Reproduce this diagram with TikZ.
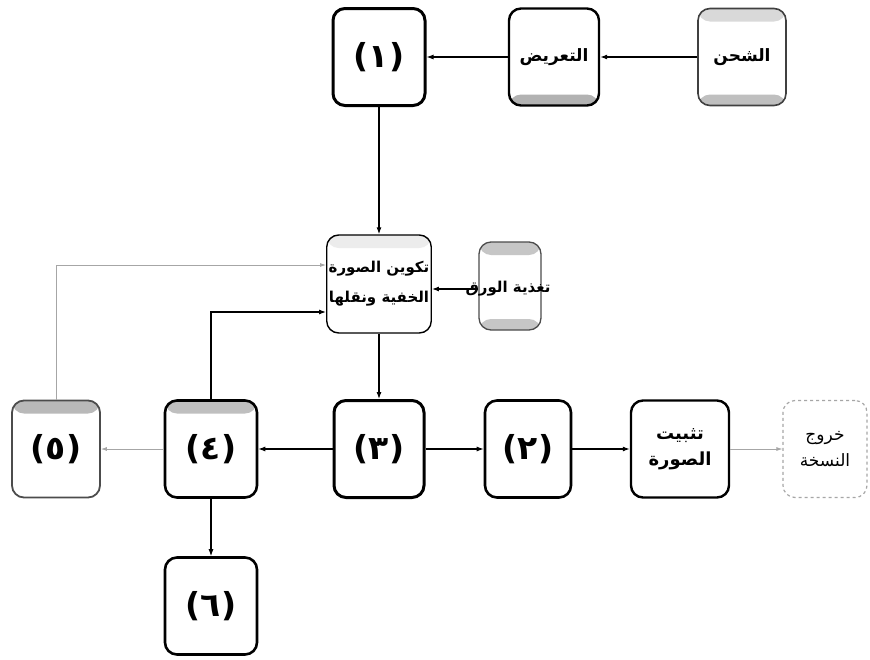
\documentclass[tikz,border=0pt]{standalone}
\usepackage{fontspec}
\usetikzlibrary{arrows.meta,calc}
\TeXXeTstate=1
\newfontfamily\arabicfont[Script=Arabic]{DejaVu Sans}
\tikzset{
  bx/.style={draw=black, fill=white, rounded corners=12pt, line width=2.6pt,
    minimum width=92pt, minimum height=97pt, inner sep=2pt, font=\arabicfont\bfseries\fontsize{33}{36}\selectfont},
  lbl/.style={font=\arabicfont\bfseries\fontsize{17}{24}\selectfont, align=center},
  topband/.style={path picture={\fill[#1] (path picture bounding box.north west) rectangle ([yshift=-13pt]path picture bounding box.north east);}},
  botband/.style={path picture={\fill[#1] (path picture bounding box.south west) rectangle ([yshift=11pt]path picture bounding box.south east);}},
  bands/.style 2 args={path picture={\fill[#1] (path picture bounding box.north west) rectangle ([yshift=-13pt]path picture bounding box.north east);
     \fill[#2] (path picture bounding box.south west) rectangle ([yshift=11pt]path picture bounding box.south east);}},
  arr/.style={-{Latex[length=7pt,width=5pt]}, line width=1.1pt, draw=black},
  farr/.style={-{Latex[length=6pt,width=4pt]}, line width=0.8pt, draw=gray!70},
}
\begin{document}
\begin{tikzpicture}[x=1pt,y=-1pt]
\useasboundingbox (0,0) rectangle (870,659);
% top row
\node[bx, line width=3pt] (b1) at (379,57) {(١)};
\node[bx, lbl, line width=2.4pt, botband=gray!60, minimum width=90pt] (taarid) at (554,57) {\beginR التعريض\endR};
\node[bx, lbl, line width=1.6pt, draw=black!75, bands={gray!30}{gray!50}, minimum width=88pt] (shahn) at (742,57) {\beginR الشحن\endR};
% middle
\node[bx, lbl, line width=1.4pt, topband=gray!15, minimum width=90pt, minimum height=98pt, font=\arabicfont\bfseries\fontsize{15}{30}\selectfont] (takwin) at (379,284) {\beginR تكوين الصورة\endR\\\beginR الخفية ونقلها\endR};
\node[bx, line width=1.3pt, draw=black!70, bands={gray!45}{gray!45}, minimum width=62pt, minimum height=88pt] (taghdhiya) at (510,286) {};
\node[lbl, font=\arabicfont\bfseries\fontsize{15}{20}\selectfont] (taghtxt) at (508,289) {\beginR تغذية الورق\endR};
% main row
\node[bx, line width=1.8pt, draw=black!70, topband=gray!55, minimum width=88pt] (b5) at (56,449) {(٥)};
\node[bx, topband=gray!50, minimum width=92pt] (b4) at (211,449) {(٤)};
\node[bx, line width=3pt, minimum width=90pt] (b3) at (379,449) {(٣)};
\node[bx, line width=2.6pt, minimum width=86pt] (b2) at (528,449) {(٢)};
\node[bx, lbl, line width=2.4pt, minimum width=98pt, font=\arabicfont\bfseries\fontsize{18}{26}\selectfont] (tathbit) at (680,449) {\beginR تثبيت\endR\\\beginR الصورة\endR};
\node[bx, lbl, line width=1.2pt, draw=gray!70, dashed, minimum width=84pt, font=\arabicfont\fontsize{17}{26}\selectfont] (khuruj) at (825,449) {\beginR خروج\endR\\\beginR النسخة\endR};
\node[bx, line width=2.6pt, minimum width=92pt] (b6) at (211,606) {(٦)};
% connectors
\draw[arr] (shahn) -- (taarid);
\draw[arr] (taarid) -- (b1);
\draw[arr] (b1) -- (takwin);
\draw[arr] (taghdhiya.west |- taghtxt) -- (takwin.east |- taghtxt);
\draw[farr] (b5.north) |- ([yshift=19pt]takwin.west);
\draw[arr] (b4.north) |- ([yshift=-28pt]takwin.west);
\draw[arr] (takwin) -- (b3);
\draw[arr] (b3) -- (b4);
\draw[farr] (b4) -- (b5);
\draw[arr] (b3) -- (b2);
\draw[arr] (b2) -- (tathbit);
\draw[farr] (tathbit) -- (khuruj);
\draw[arr] (b4) -- (b6);
\end{tikzpicture}
\end{document}
